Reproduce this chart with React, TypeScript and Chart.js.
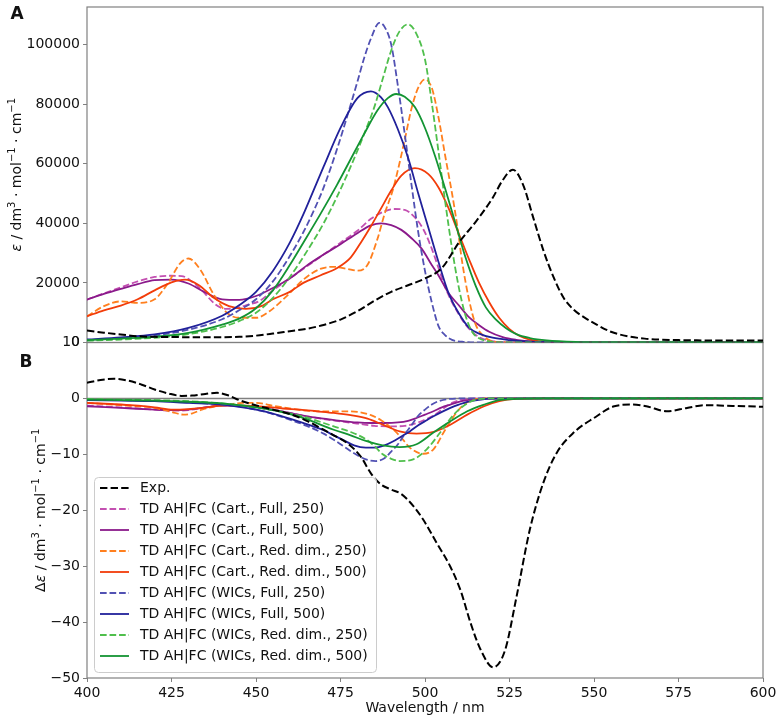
import React, { useEffect, useRef } from 'react';
import { Chart, registerables } from 'chart.js';

Chart.register(...registerables);

type Pt = [number, number];

// ---------- tick labels ----------
const X_TICKS = [400, 425, 450, 475, 500, 525, 550, 575, 600];
const ABS_TICKS = [0, 20000, 40000, 60000, 80000, 100000];
const CD_TICKS = [-50, -40, -30, -20, -10, 0, 10];

// ---------- series names / styles ----------
const LABELS = [
  'Exp.',
  'TD AH|FC (Cart., Full, 250)',
  'TD AH|FC (Cart., Full, 500)',
  'TD AH|FC (Cart., Red. dim., 250)',
  'TD AH|FC (Cart., Red. dim., 500)',
  'TD AH|FC (WICs, Full, 250)',
  'TD AH|FC (WICs, Full, 500)',
  'TD AH|FC (WICs, Red. dim., 250)',
  'TD AH|FC (WICs, Red. dim., 500)',
];
const COLORS = ['#000000', '#c350b1', '#8b1a8b', '#ff7f1e', '#f23c0a', '#5151b3', '#21219a', '#4fbf4c', '#139433'];
const DASHED = [true, true, false, true, false, true, false, true, false];

// ---------- panel A: absorption (wavelength nm, epsilon) ----------
const EXP_ABS: Pt[] = [[400,4000],[405,3300],[410,2700],[415,2100],[420,1900],[430,1800],[440,1800],[445,1900],[450,2300],[455,3000],[460,3800],[465,4600],[470,5900],[475,7700],[480,10500],[485,14000],[490,17000],[495,19200],[500,21500],[505,25000],[510,33500],[515,40500],[520,48500],[523,54500],[526,58000],[529,53000],[532,42000],[535,31000],[538,22000],[541,15000],[544,11000],[547,8500],[550,6500],[555,3600],[560,2100],[565,1300],[570,950],[575,800],[585,700],[600,700]];
const CF250_ABS: Pt[] = [[400,14400],[405,16500],[410,18500],[415,20500],[420,22000],[425,22400],[428,22300],[431,20500],[434,17500],[438,12800],[441,11300],[444,11500],[447,12500],[451,13900],[455,17500],[460,21500],[465,25500],[470,29500],[475,33500],[480,37500],[484,41500],[488,44000],[491,44800],[494,44500],[497,42000],[499.5,38000],[502,31500],[504,25000],[506,18500],[508,13500],[510,9500],[512,6000],[514,3500],[516,1800],[519,600],[523,150],[530,0],[600,0]];
const CF500_ABS: Pt[] = [[400,14400],[405,16300],[410,18000],[415,19600],[420,20900],[425,21100],[430,19800],[435,16800],[440,14500],[445,14300],[450,15600],[455,18300],[460,21500],[465,25800],[470,29500],[475,33000],[480,36700],[484,39300],[487,40000],[490,39400],[493,37800],[496,35000],[499,31500],[502,26000],[504,22500],[507,16500],[510,12500],[513,8500],[516,5800],[519,3600],[523,1800],[527,900],[532,300],[540,50],[550,0],[600,0]];
const CR250_ABS: Pt[] = [[400,8800],[405,12200],[410,13800],[415,13300],[420,14500],[424,20000],[427.5,26500],[430,28200],[433.5,24500],[437.5,16100],[441.5,9900],[445,8300],[450,8300],[454,10500],[459,15500],[464,21100],[469,24700],[473,25400],[477,24700],[480,24100],[483,26100],[486,35000],[488,43000],[490.5,51300],[492,58000],[494,68000],[496,78500],[498,85500],[500,88300],[502,85500],[504,75500],[506,62500],[508,50000],[509.5,39500],[511,27000],[513,14500],[515,6000],[517,2500],[519,800],[522,200],[530,0],[600,0]];
const CR500_ABS: Pt[] = [[400,8800],[405,10800],[410,12400],[415,14500],[420,17500],[425,20200],[429,21100],[433,19300],[437.5,15000],[442,12200],[447,11300],[452,12400],[455,14500],[460,17000],[464,20000],[469,22500],[474,25000],[478,28500],[481,33500],[484,39000],[487,45000],[490,51000],[493,56000],[497,58500],[501,56500],[504,52000],[507,45000],[510,36500],[513,28000],[516,20000],[519,13500],[522,8200],[525,4500],[528,2200],[531,1000],[535,350],[540,100],[550,0],[600,0]];
const WF250_ABS: Pt[] = [[400,700],[410,1300],[420,2300],[430,4300],[440,7800],[445,10800],[450,14500],[455,20500],[460,29000],[464,37000],[467,44000],[470,52000],[474,65000],[477,76000],[480,87500],[482,95500],[484,102000],[486.5,107300],[488,106000],[490,100000],[492,86000],[494,70000],[496,53000],[498,37000],[500,24000],[502,13500],[504,5500],[506,2400],[508,900],[511,250],[515,0],[600,0]];
const WF500_ABS: Pt[] = [[400,1000],[410,1700],[420,2700],[430,4900],[440,9000],[445,12500],[450,17000],[455,24000],[460,33500],[464,43000],[467,51000],[470,59000],[475,72000],[480,82000],[484,84300],[487,82300],[489,79000],[492,71500],[495,62000],[498,50000],[501,38500],[504,27000],[507,16500],[510,9800],[513,5000],[516,3000],[520,1600],[525,800],[530,350],[540,100],[550,0],[600,0]];
const WR250_ABS: Pt[] = [[400,600],[410,1000],[420,1600],[430,2800],[440,5200],[445,7200],[450,10000],[455,15000],[460,22000],[465,30500],[470,40000],[474,49000],[478,59000],[482,70000],[485,79000],[487.5,88500],[490,98000],[492.5,104500],[495,106800],[497.5,103500],[500,95000],[502,80500],[504,64000],[506,47000],[508,31500],[510,18500],[512,9000],[514,3500],[516,1400],[519,400],[525,0],[600,0]];
const WR500_ABS: Pt[] = [[400,800],[410,1300],[420,1900],[430,3200],[440,6000],[445,8000],[450,11500],[455,17500],[460,26000],[464,33500],[469,43000],[474,53000],[478,61500],[482,70000],[486,78000],[489,82000],[491.5,83400],[494,82500],[497,79000],[500,72000],[503,62500],[506,51500],[509,40000],[512,28500],[515,19000],[518,11800],[521,7700],[524,4800],[527,2800],[531,1500],[536,700],[545,150],[555,0],[600,0]];

// ---------- panel B: circular dichroism (wavelength nm, delta epsilon) ----------
const EXP_CD: Pt[] = [[400,2.8],[404,3.3],[408,3.5],[412,3.2],[416,2.5],[420,1.6],[424,0.9],[428,0.45],[431,0.5],[435,0.8],[438.5,1.0],[442,0.5],[445,-0.3],[448,-0.9],[451,-1.4],[455,-2.0],[460,-2.8],[465,-4.0],[470,-5.6],[473,-6.6],[477,-8.0],[481,-10.4],[484,-13.4],[487,-15.4],[490,-16.3],[493,-17.1],[496.5,-19.2],[499.5,-21.7],[503.5,-25.9],[507.5,-30.1],[510.5,-34.3],[513.5,-40.2],[516.5,-45.0],[520.2,-48.1],[523.7,-45.0],[527.1,-35.4],[531,-23.5],[535,-15.1],[539,-9.7],[544,-6.1],[550,-3.5],[556,-1.4],[561.5,-1.1],[565.5,-1.4],[571.5,-2.3],[577.5,-1.7],[583,-1.2],[589,-1.3],[600,-1.5]];
const CF250_CD: Pt[] = [[400,-1.3],[410,-1.6],[420,-2.0],[425,-2.2],[430,-2.1],[435,-1.6],[440,-1.3],[445,-1.3],[450,-1.6],[455,-2.0],[460,-2.6],[465,-3.2],[470,-3.7],[475,-4.1],[480,-4.5],[485,-4.9],[490,-5.0],[494,-4.9],[497.5,-4.4],[500,-3.8],[502.5,-3.1],[505,-2.0],[508,-0.8],[511,-0.2],[515,0],[600,0]];
const CF500_CD: Pt[] = [[400,-1.4],[410,-1.7],[420,-2.0],[425,-2.1],[430,-2.0],[435,-1.6],[440,-1.3],[445,-1.3],[450,-1.5],[455,-2.0],[460,-2.6],[465,-3.2],[470,-3.6],[475,-4.0],[480,-4.3],[484,-4.4],[488,-4.4],[492,-4.3],[495,-4.0],[497.5,-3.5],[500,-2.9],[502.5,-2.3],[505,-1.6],[507.5,-1.1],[510,-0.6],[512.5,-0.3],[516,-0.1],[520,0],[600,0]];
const CR250_CD: Pt[] = [[400,-0.8],[410,-1.2],[420,-1.7],[425,-2.4],[428.5,-2.9],[431,-2.7],[434,-2.0],[438,-1.4],[442,-1.1],[446,-0.8],[450,-0.8],[455,-1.3],[460,-1.8],[465,-2.2],[470,-2.3],[475,-2.3],[480,-2.4],[484,-3.0],[487,-3.9],[490.5,-5.5],[493,-7.0],[495.5,-8.8],[499.5,-9.9],[502.5,-9.1],[505.5,-6.1],[508.5,-3.2],[511.5,-1.1],[514,-0.3],[518,0],[600,0]];
const CR500_CD: Pt[] = [[400,-0.8],[407,-1.0],[414,-1.25],[420,-1.6],[425.5,-2.0],[430,-1.9],[434,-1.7],[441,-1.25],[447,-1.3],[453,-1.5],[458,-1.8],[463,-2.0],[468,-2.3],[473,-2.6],[478,-3.0],[483,-3.6],[487.5,-4.7],[492.5,-5.9],[497.5,-6.3],[502.5,-6.0],[507.5,-4.7],[512.5,-2.9],[517.5,-1.4],[522,-0.5],[527,-0.1],[535,0],[600,0]];
const WF250_CD: Pt[] = [[400,-0.2],[410,-0.3],[420,-0.4],[430,-0.7],[440,-1.1],[445,-1.4],[450,-2.0],[455,-2.8],[460,-3.8],[465,-4.9],[470,-6.3],[473,-7.4],[476,-8.6],[479,-9.8],[482.5,-10.9],[485.5,-11.2],[488,-10.7],[490,-9.5],[492,-8.2],[494,-6.4],[496,-4.8],[498,-3.1],[500,-2.0],[502,-1.1],[504,-0.5],[507,-0.1],[512,0],[600,0]];
const WF500_CD: Pt[] = [[400,-0.3],[410,-0.4],[420,-0.5],[430,-0.8],[440,-1.1],[445,-1.5],[450,-2.0],[455,-2.7],[460,-3.6],[465,-4.6],[470,-5.7],[473,-6.6],[476,-7.5],[479,-8.4],[482.5,-8.8],[485,-8.8],[488,-8.4],[490.5,-7.7],[493,-6.8],[495.5,-5.9],[498,-4.8],[500.5,-3.9],[502.5,-3.2],[505,-2.4],[507.5,-1.7],[510,-1.1],[512.5,-0.6],[516,-0.25],[520,-0.05],[530,0],[600,0]];
const WR250_CD: Pt[] = [[400,-0.1],[410,-0.2],[420,-0.3],[430,-0.5],[440,-0.9],[445,-1.2],[450,-1.6],[455,-2.1],[460,-2.7],[465,-3.4],[470,-4.4],[473,-5.0],[478,-6.0],[482.5,-7.3],[485,-8.5],[487.5,-10.0],[490,-10.8],[492.5,-11.2],[496.5,-10.9],[500.5,-9.1],[504.5,-6.1],[508.5,-2.9],[512.5,-0.9],[515.5,-0.2],[520,0],[600,0]];
const WR500_CD: Pt[] = [[400,-0.2],[410,-0.3],[420,-0.4],[430,-0.6],[440,-0.9],[445,-1.2],[450,-1.6],[455,-2.1],[460,-2.8],[465,-3.7],[470,-4.9],[473,-5.6],[478,-6.6],[482.5,-7.6],[487.5,-8.4],[492.5,-8.7],[497.5,-8.2],[502.5,-6.1],[507.5,-4.1],[512.5,-2.3],[517.5,-1.1],[522,-0.3],[527,-0.1],[535,0],[600,0]];

const ABS_SERIES = [EXP_ABS, CF250_ABS, CF500_ABS, CR250_ABS, CR500_ABS, WF250_ABS, WF500_ABS, WR250_ABS, WR500_ABS];
const CD_SERIES = [EXP_CD, CF250_CD, CF500_CD, CR250_CD, CR500_CD, WF250_CD, WF500_CD, WR250_CD, WR500_CD];

const FONT = 'DejaVu Sans';
const SPINE = '#808080';
const TEXT = '#111111';

const lw = (i: number) => (i === 0 ? 2 : 1.8);
const dashFor = (i: number) => (DASHED[i] ? [3.7 * lw(i), 1.6 * lw(i)] : []);
const fmtMinus = (v: number) => (v < 0 ? '\u2212' + Math.abs(v) : String(v));

type Seg = { t: string; sup?: boolean; it?: boolean };
const TITLE_A: Seg[] = [
  { t: '\u03b5', it: true }, { t: ' / dm' }, { t: '3', sup: true }, { t: ' \u00b7 mol' },
  { t: '\u22121', sup: true }, { t: ' \u00b7 cm' }, { t: '\u22121', sup: true },
];
const TITLE_B: Seg[] = [
  { t: '\u0394' }, { t: '\u03b5', it: true }, { t: ' / dm' }, { t: '3', sup: true }, { t: ' \u00b7 mol' },
  { t: '\u22121', sup: true }, { t: ' \u00b7 cm' }, { t: '\u22121', sup: true },
];

function segFont(s: Seg) {
  return `${s.it ? 'italic ' : ''}${s.sup ? 10 : 14}px "${FONT}"`;
}

function drawRotated(ctx: CanvasRenderingContext2D, segs: Seg[], cx: number, cy: number) {
  ctx.save();
  ctx.translate(cx, cy);
  ctx.rotate(-Math.PI / 2);
  ctx.fillStyle = TEXT;
  ctx.textBaseline = 'alphabetic';
  ctx.textAlign = 'left';
  const widths = segs.map((s) => {
    ctx.font = segFont(s);
    return ctx.measureText(s.t).width;
  });
  const total = widths.reduce((a, b) => a + b, 0);
  let x = -total / 2;
  const base = 5;
  segs.forEach((s, i) => {
    ctx.font = segFont(s);
    ctx.fillText(s.t, x, s.sup ? base - 6 : base);
    x += widths[i];
  });
  ctx.restore();
}

const panelPlugin = {
  id: 'panels',
  beforeDatasetsDraw(chart: any) {
    const { ctx, chartArea } = chart;
    const yA = chart.scales.yA;
    const yB = chart.scales.yB;
    ctx.save();
    ctx.strokeStyle = SPINE;
    ctx.lineWidth = 1.2;
    ctx.strokeRect(chartArea.left, yA.top, chartArea.right - chartArea.left, yA.bottom - yA.top);
    ctx.strokeRect(chartArea.left, yB.top, chartArea.right - chartArea.left, yB.bottom - yB.top);
    const y0 = yB.getPixelForValue(0);
    ctx.lineWidth = 1.5;
    ctx.beginPath();
    ctx.moveTo(chartArea.left, y0);
    ctx.lineTo(chartArea.right, y0);
    ctx.stroke();
    ctx.restore();
  },
  afterDraw(chart: any) {
    const { ctx } = chart;
    const yA = chart.scales.yA;
    const yB = chart.scales.yB;
    drawRotated(ctx, TITLE_A, 16, (yA.top + yA.bottom) / 2);
    drawRotated(ctx, TITLE_B, 40, (yB.top + yB.bottom) / 2);

    ctx.save();
    ctx.fillStyle = TEXT;
    ctx.font = `bold 17px "${FONT}"`;
    ctx.textAlign = 'center';
    ctx.textBaseline = 'middle';
    ctx.fillText('A', 17, 15);
    ctx.fillText('B', 26, 363);
    ctx.restore();

    // legend
    const bx = 94.5, by = 477.5, bw = 282, bh = 195, r = 4;
    ctx.save();
    ctx.beginPath();
    ctx.moveTo(bx + r, by);
    ctx.lineTo(bx + bw - r, by);
    ctx.quadraticCurveTo(bx + bw, by, bx + bw, by + r);
    ctx.lineTo(bx + bw, by + bh - r);
    ctx.quadraticCurveTo(bx + bw, by + bh, bx + bw - r, by + bh);
    ctx.lineTo(bx + r, by + bh);
    ctx.quadraticCurveTo(bx, by + bh, bx, by + bh - r);
    ctx.lineTo(bx, by + r);
    ctx.quadraticCurveTo(bx, by, bx + r, by);
    ctx.closePath();
    ctx.fillStyle = 'rgba(255,255,255,0.8)';
    ctx.fill();
    ctx.strokeStyle = '#cccccc';
    ctx.lineWidth = 1;
    ctx.stroke();
    LABELS.forEach((lab, i) => {
      const y = 488 + 21 * i;
      ctx.strokeStyle = COLORS[i];
      ctx.lineWidth = lw(i);
      ctx.setLineDash(dashFor(i));
      ctx.beginPath();
      ctx.moveTo(100, y);
      ctx.lineTo(129, y);
      ctx.stroke();
      ctx.setLineDash([]);
      ctx.fillStyle = TEXT;
      ctx.font = `14px "${FONT}"`;
      ctx.textAlign = 'left';
      ctx.textBaseline = 'middle';
      ctx.fillText(lab, 140, y + 0.5);
    });
    ctx.restore();
  },
};

function buildDatasets() {
  const ds: any[] = [];
  const make = (arr: Pt[], i: number, axis: string) => ({
    label: LABELS[i],
    data: arr.map(([x, y]) => ({ x, y })),
    yAxisID: axis,
    borderColor: COLORS[i],
    backgroundColor: COLORS[i],
    borderWidth: lw(i),
    borderDash: dashFor(i),
    pointRadius: 0,
    fill: false,
    cubicInterpolationMode: 'monotone',
    order: i === 0 ? 0 : 20 - i,
  });
  ABS_SERIES.forEach((arr, i) => ds.push(make(arr, i, 'yA')));
  CD_SERIES.forEach((arr, i) => ds.push(make(arr, i, 'yB')));
  return ds;
}

const tickFont = { family: FONT, size: 14 };

export default function App() {
  const ref = useRef<HTMLCanvasElement | null>(null);
  useEffect(() => {
    if (!ref.current) return;
    const chart = new Chart(ref.current, {
      type: 'line',
      data: { datasets: buildDatasets() },
      options: {
        animation: false,
        responsive: false,
        devicePixelRatio: 1,
        layout: { padding: { left: 0, right: 21, top: 7, bottom: 0 } },
        plugins: { legend: { display: false }, tooltip: { enabled: false } },
        scales: {
          x: {
            type: 'linear',
            position: 'bottom',
            min: 400,
            max: 600,
            afterBuildTicks: (s: any) => { s.ticks = X_TICKS.map((v) => ({ value: v })); },
            afterFit: (s: any) => { s.height = 46; },
            grid: { display: true, drawOnChartArea: false, drawTicks: true, tickLength: 4, color: SPINE, lineWidth: 1 },
            border: { display: false },
            ticks: { font: tickFont, color: TEXT, padding: 3, maxRotation: 0, autoSkip: false, callback: (v: any) => String(v) },
            title: { display: true, text: 'Wavelength / nm', font: tickFont, color: TEXT, padding: { top: 0, bottom: 7 } },
          },
          yB: {
            type: 'linear',
            position: 'left',
            stack: 'panels',
            stackWeight: 1,
            weight: 0,
            min: -50,
            max: 10,
            afterBuildTicks: (s: any) => { s.ticks = CD_TICKS.map((v) => ({ value: v })); },
            afterFit: (s: any) => { s.width = 87; s.paddingTop = 0; s.paddingBottom = 0; },
            grid: { display: true, drawOnChartArea: false, drawTicks: true, tickLength: 4, color: SPINE, lineWidth: 1 },
            border: { display: false },
            ticks: { font: tickFont, color: TEXT, padding: 3, autoSkip: false, callback: (v: any) => fmtMinus(Number(v)) },
          },
          yA: {
            type: 'linear',
            position: 'left',
            stack: 'panels',
            stackWeight: 1,
            weight: 1,
            min: 0,
            max: 112600,
            afterBuildTicks: (s: any) => { s.ticks = ABS_TICKS.map((v) => ({ value: v })); },
            afterFit: (s: any) => { s.width = 87; s.paddingTop = 0; s.paddingBottom = 0; },
            grid: { display: true, drawOnChartArea: false, drawTicks: true, tickLength: 4, color: SPINE, lineWidth: 1 },
            border: { display: false },
            ticks: { font: tickFont, color: TEXT, padding: 3, autoSkip: false, callback: (v: any) => String(v) },
          },
        },
      } as any,
      plugins: [panelPlugin as any],
    });
    return () => chart.destroy();
  }, []);
  return (
    <div style={{ position: 'fixed', left: 0, top: 0, width: 784, height: 724, background: '#ffffff' }}>
      <canvas ref={ref} width={784} height={724} style={{ width: 784, height: 724, display: 'block' }} />
    </div>
  );
}
